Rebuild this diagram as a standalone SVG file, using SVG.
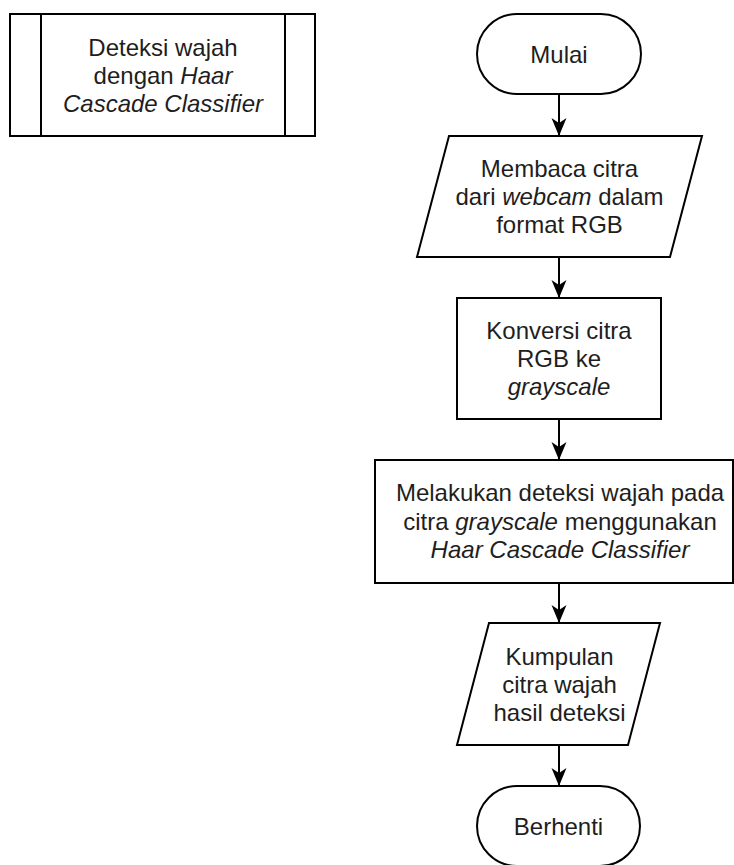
<svg xmlns="http://www.w3.org/2000/svg" width="734" height="865" viewBox="0 0 734 865">
<style>
.s{fill:#fff;stroke:#000;stroke-width:2}
.t{font-family:"Liberation Sans",Arial,sans-serif;font-size:24px;fill:#1e1e1e;text-anchor:middle}
.i{font-style:italic}
.c{stroke:#000;stroke-width:2;fill:none}
</style>
<defs>
<marker id="ah" markerUnits="userSpaceOnUse" markerWidth="22" markerHeight="20" viewBox="-20 -10 22 20" refX="0" refY="0" orient="auto" overflow="visible">
<path d="M0,0 L-18,-7.5 L-13,0 L-18,7.5 Z" fill="#000"/>
</marker>
</defs>
<rect width="734" height="865" fill="#fff"/>
<g id="legend">
<rect class="s" x="10" y="14" width="305" height="122"/>
<line class="c" x1="41" y1="14" x2="41" y2="136"/>
<line class="c" x1="285" y1="14" x2="285" y2="136"/>
<text class="t" x="163" y="56">Deteksi wajah</text>
<text class="t" x="163" y="84">dengan <tspan class="i">Haar</tspan></text>
<text class="t i" x="163" y="112">Cascade Classifier</text>
</g>
<g id="mulai">
<rect class="s" x="477" y="14" width="164" height="80" rx="40" ry="40"/>
<text class="t" x="559" y="62.5">Mulai</text>
</g>
<g id="baca">
<polygon class="s" points="449,136 702,136 670,257 417,257"/>
<text class="t" x="559.5" y="177">Membaca citra</text>
<text class="t" x="559.5" y="205">dari <tspan class="i">webcam</tspan> dalam</text>
<text class="t" x="559.5" y="233">format RGB</text>
</g>
<g id="konversi">
<rect class="s" x="457" y="298" width="204" height="121"/>
<text class="t" x="559" y="339">Konversi citra</text>
<text class="t" x="559" y="367">RGB ke</text>
<text class="t i" x="559" y="395">grayscale</text>
</g>
<g id="deteksi">
<rect class="s" x="375" y="460" width="358" height="123"/>
<text class="t" x="560" y="501">Melakukan deteksi wajah pada</text>
<text class="t" x="560" y="529.5">citra <tspan class="i">grayscale</tspan> menggunakan</text>
<text class="t i" x="560" y="558">Haar Cascade Classifier</text>
</g>
<g id="kumpulan">
<polygon class="s" points="489,623 660,623 628,745 457,745"/>
<text class="t" x="559.5" y="665">Kumpulan</text>
<text class="t" x="559.5" y="693">citra wajah</text>
<text class="t" x="559.5" y="721">hasil deteksi</text>
</g>
<g id="berhenti">
<rect class="s" x="477" y="786" width="163" height="80" rx="40" ry="40"/>
<text class="t" x="558.5" y="835">Berhenti</text>
</g>
<g id="connectors">
<line class="c" x1="559" y1="94" x2="559" y2="136" marker-end="url(#ah)"/>
<line class="c" x1="559" y1="257" x2="559" y2="298" marker-end="url(#ah)"/>
<line class="c" x1="559" y1="419" x2="559" y2="460" marker-end="url(#ah)"/>
<line class="c" x1="559" y1="583" x2="559" y2="623" marker-end="url(#ah)"/>
<line class="c" x1="559" y1="745" x2="559" y2="786" marker-end="url(#ah)"/>
</g>
</svg>
